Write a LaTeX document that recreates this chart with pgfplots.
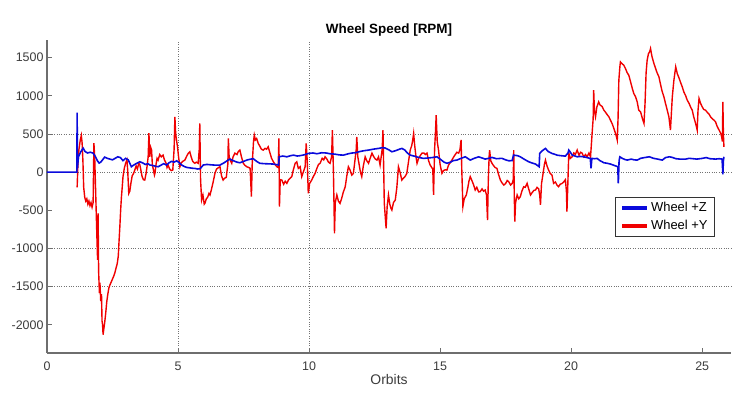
\documentclass[border=0pt]{standalone}
\usepackage{fontspec}
\setmainfont{Liberation Sans}
\usepackage{pgfplots}
\pgfplotsset{compat=1.18}
\definecolor{wblue}{RGB}{10,10,220}
\definecolor{wred}{RGB}{240,0,0}
\definecolor{axgray}{RGB}{110,110,110}
\definecolor{txtgray}{RGB}{60,60,60}
\begin{document}
\begin{tikzpicture}
\begin{axis}[
  scale only axis,
  width=684bp, height=313bp,
  xmin=0, xmax=26.1, ymin=-2370, ymax=1730,
  axis x line=bottom, axis y line=left,
  axis line style={axgray, line width=1.1pt, -},
  tick align=inside,
  tick style={axgray, line width=0.8pt},
  major tick length=5bp,
  xtick={0,5,...,25},
  ytick={-2000,-1500,-1000,-500,0,500,1000,1500},
  /pgf/number format/assume math mode=true,
  /pgf/number format/1000 sep={},
  ticklabel style={font=\fontsize{12.5}{14}\selectfont, text=txtgray},
  xticklabel style={yshift=-5bp},
  extra x ticks={5,10}, extra x tick labels={},
  extra y ticks={-1500,-1000,0,500}, extra y tick labels={},
  extra tick style={grid=major, major grid style={black!55, dotted, line width=0.6pt}, major tick length=0pt},
  title={\bfseries Wheel Speed [RPM]},
  title style={font=\fontsize{13.5}{15}\selectfont, yshift=-6bp},
  xlabel={Orbits},
  xlabel style={font=\fontsize{14}{16}\selectfont, text=txtgray, yshift=3bp},
  legend style={at={(0.830,0.498)}, anchor=north west, draw=black!80, line width=0.8pt,
    font=\fontsize{13}{14}\selectfont, row sep=3pt, inner xsep=5pt, inner ysep=3pt},
  legend cell align=left,
  legend image code/.code={\draw[#1, line width=4pt] (0bp,0bp) -- (25bp,0bp);},
]
\addlegendimage{wblue}
\addlegendentry{Wheel +Z}
\addlegendimage{wred}
\addlegendentry{Wheel +Y}

\addplot[wred, line width=1.4pt, forget plot] coordinates {
(1.15,-200) (1.18,100) (1.22,300) (1.27,420) (1.31,480) (1.34,380) (1.37,150) (1.40,-200) (1.44,-330) (1.48,-380) (1.52,-350) (1.56,-420) (1.60,-380) (1.64,-440) (1.68,-400) (1.72,-460) (1.76,-400) (1.79,380) (1.82,200) (1.86,-300) (1.90,-800) (1.93,-1150) (1.95,-540) (1.97,-1300) (2.00,-1585) (2.02,-1450) (2.05,-1690) (2.08,-1600) (2.10,-1950) (2.12,-2000) (2.14,-2130) (2.17,-2050) (2.20,-1975) (2.24,-1850) (2.28,-1700) (2.32,-1600) (2.36,-1520) (2.40,-1480) (2.45,-1440) (2.50,-1400) (2.55,-1360) (2.59,-1320) (2.64,-1250) (2.68,-1200) (2.72,-1100) (2.75,-900) (2.78,-715) (2.81,-500) (2.84,-330) (2.87,-200) (2.90,-60) (2.95,50) (3.00,115) (3.05,160) (3.08,20) (3.12,-280) (3.16,-250) (3.20,-150) (3.25,-50) (3.30,-20) (3.35,26) (3.40,80) (3.45,40) (3.50,115) (3.54,100) (3.58,30) (3.63,-60) (3.68,-100) (3.73,-105) (3.78,-20) (3.82,80) (3.86,200) (3.89,510) (3.92,200) (3.96,320) (3.99,288) (4.02,100) (4.06,30) (4.10,-40) (4.12,-15) (4.16,100) (4.20,180) (4.24,157) (4.30,230) (4.36,200) (4.43,222) (4.48,160) (4.54,120) (4.58,60) (4.62,92) (4.68,40) (4.74,20) (4.80,26) (4.85,300) (4.88,724) (4.91,500) (4.95,400) (4.98,331) (5.02,200) (5.07,70) (5.12,120) (5.18,140) (5.26,157) (5.32,200) (5.38,240) (5.45,266) (5.50,200) (5.56,140) (5.64,115) (5.70,130) (5.77,115) (5.81,300) (5.83,637) (5.86,-100) (5.90,-366) (5.95,-300) (6.00,-420) (6.03,-406) (6.08,-350) (6.13,-330) (6.18,-280) (6.22,-300) (6.28,-220) (6.34,-130) (6.41,-15) (6.47,40) (6.55,60) (6.60,70) (6.66,-50) (6.72,-105) (6.78,-80) (6.84,-70) (6.90,100) (6.92,440) (6.95,200) (7.00,150) (7.05,115) (7.10,200) (7.17,248) (7.25,230) (7.30,270) (7.36,288) (7.42,200) (7.49,115) (7.55,90) (7.62,70) (7.70,60) (7.75,50) (7.80,-320) (7.83,100) (7.88,400) (7.91,484) (7.95,420) (8.00,440) (8.06,375) (8.12,340) (8.18,300) (8.25,288) (8.32,310) (8.38,300) (8.44,331) (8.50,260) (8.57,179) (8.63,140) (8.70,100) (8.77,70) (8.82,60) (8.85,440) (8.87,-453) (8.90,-100) (8.96,-105) (9.03,-160) (9.09,-120) (9.15,-148) (9.22,-100) (9.28,-80) (9.34,-60) (9.40,30) (9.47,115) (9.53,135) (9.59,48) (9.66,70) (9.72,-60) (9.78,0) (9.85,70) (9.89,375) (9.93,150) (9.97,-279) (10.02,-150) (10.10,-105) (10.16,-60) (10.23,-17) (10.30,50) (10.36,100) (10.42,115) (10.50,180) (10.56,160) (10.61,200) (10.68,170) (10.74,130) (10.80,115) (10.86,200) (10.89,550) (10.93,0) (10.97,-802) (11.00,-400) (11.06,-300) (11.12,-380) (11.18,-410) (11.24,-350) (11.30,-270) (11.38,-192) (11.44,-50) (11.50,70) (11.56,30) (11.63,-40) (11.69,-17) (11.75,150) (11.80,300) (11.82,462) (11.86,200) (11.91,100) (11.96,0) (12.01,-60) (12.07,80) (12.14,200) (12.20,150) (12.27,115) (12.33,180) (12.40,248) (12.47,200) (12.53,170) (12.59,157) (12.65,200) (12.71,92) (12.79,300) (12.82,550) (12.85,0) (12.87,-406) (12.91,-600) (12.94,-737) (12.98,-450) (13.03,-300) (13.08,-420) (13.12,-470) (13.16,-497) (13.22,-400) (13.29,-366) (13.35,-200) (13.41,70) (13.47,0) (13.54,-105) (13.60,-80) (13.66,-60) (13.73,-17) (13.80,150) (13.86,288) (13.92,350) (13.96,430) (13.99,506) (14.03,350) (14.08,200) (14.12,115) (14.18,180) (14.25,220) (14.31,248) (14.38,250) (14.44,230) (14.50,248) (14.56,150) (14.62,92) (14.68,60) (14.72,40) (14.75,-300) (14.79,300) (14.82,500) (14.85,745) (14.89,400) (14.94,288) (15.00,100) (15.07,-17) (15.13,20) (15.20,30) (15.26,26) (15.32,90) (15.38,120) (15.45,157) (15.52,200) (15.58,230) (15.64,260) (15.71,248) (15.76,300) (15.80,420) (15.83,0) (15.87,-450) (15.92,-350) (16.00,-300) (16.06,-200) (16.10,-120) (16.15,-60) (16.20,-100) (16.27,-160) (16.34,-235) (16.40,-200) (16.47,-260) (16.53,-257) (16.60,-220) (16.66,-250) (16.72,-235) (16.77,-300) (16.81,-628) (16.84,-100) (16.87,200) (16.89,288) (16.93,150) (16.98,115) (17.05,80) (17.10,60) (17.17,48) (17.23,-30) (17.30,-105) (17.36,-140) (17.43,-170) (17.50,-150) (17.56,-110) (17.62,-127) (17.69,-170) (17.75,-150) (17.79,-100) (17.81,288) (17.83,-300) (17.85,-650) (17.88,-400) (17.94,-300) (18.00,-350) (18.06,-323) (18.12,-250) (18.19,-192) (18.25,-200) (18.32,-148) (18.38,-220) (18.45,-300) (18.51,-270) (18.58,-240) (18.64,-235) (18.70,-200) (18.76,-220) (18.80,-300) (18.83,-430) (18.87,-150) (18.93,-17) (18.98,100) (19.02,157) (19.08,80) (19.14,26) (19.20,-17) (19.27,-40) (19.33,-148) (19.40,-130) (19.46,-170) (19.52,-192) (19.58,-160) (19.65,-150) (19.72,-127) (19.78,-100) (19.82,-250) (19.84,-519) (19.87,-200) (19.91,248) (19.97,180) (20.04,200) (20.10,250) (20.16,230) (20.23,288) (20.30,220) (20.36,260) (20.42,248) (20.48,200) (20.55,230) (20.61,200) (20.68,250) (20.74,200) (20.78,400) (20.80,506) (20.84,700) (20.86,1073) (20.89,800) (20.93,724) (20.98,850) (21.05,920) (21.10,880) (21.18,860) (21.25,811) (21.32,780) (21.38,750) (21.44,724) (21.50,680) (21.57,630) (21.63,571) (21.70,500) (21.76,419) (21.79,700) (21.82,1203) (21.86,1380) (21.88,1443) (21.94,1420) (22.01,1400) (22.08,1350) (22.14,1300) (22.20,1269) (22.27,1180) (22.33,1100) (22.39,1030) (22.46,985) (22.52,920) (22.58,811) (22.65,789) (22.72,700) (22.78,637) (22.82,900) (22.86,1300) (22.90,1465) (22.95,1550) (23.00,1580) (23.03,1618) (23.08,1520) (23.12,1470) (23.16,1421) (23.22,1360) (23.28,1300) (23.35,1247) (23.41,1150) (23.47,1060) (23.54,985) (23.60,900) (23.66,820) (23.73,724) (23.79,550) (23.83,800) (23.86,985) (23.92,1200) (23.99,1378) (24.05,1290) (24.12,1230) (24.18,1170) (24.24,1116) (24.30,1050) (24.37,1000) (24.43,942) (24.50,900) (24.56,850) (24.62,811) (24.68,720) (24.75,637) (24.81,550) (24.84,800) (24.88,964) (24.94,900) (25.00,855) (25.06,820) (25.13,810) (25.20,780) (25.26,760) (25.32,724) (25.38,700) (25.45,680) (25.51,658) (25.57,600) (25.63,560) (25.71,506) (25.75,450) (25.77,400) (25.79,920) (25.81,500) (25.83,331)
};

\addplot[wblue, line width=1.6pt, forget plot] coordinates {
(0,0) (1.14,0) (1.15,780) (1.16,50) (1.20,200) (1.28,260) (1.38,314) (1.45,270) (1.55,250) (1.65,260) (1.76,248) (1.85,200) (1.92,150) (1.99,118) (2.05,130) (2.12,160) (2.20,196) (2.30,180) (2.40,170) (2.50,160) (2.60,180) (2.70,200) (2.80,190) (2.90,150) (3.00,180) (3.10,160) (3.22,70) (3.30,90) (3.40,110) (3.54,135) (3.65,120) (3.75,100) (3.85,110) (3.93,92) (4.05,85) (4.15,75) (4.24,70) (4.35,90) (4.45,110) (4.56,92) (4.65,120) (4.75,140) (4.85,130) (4.95,148) (5.05,120) (5.15,90) (5.26,70) (5.35,60) (5.45,55) (5.55,50) (5.64,48) (5.75,40) (5.85,45) (5.96,92) (6.10,100) (6.25,95) (6.38,92) (6.50,90) (6.60,92) (6.75,120) (6.88,150) (6.98,170) (7.10,150) (7.25,130) (7.36,122) (7.50,140) (7.65,160) (7.78,170) (7.87,175) (8.00,140) (8.12,115) (8.30,110) (8.45,108) (8.63,105) (8.75,98) (8.84,92) (8.86,200) (9.00,210) (9.15,200) (9.30,215) (9.41,222) (9.55,210) (9.66,215) (9.80,225) (9.97,244) (10.15,250) (10.30,240) (10.48,253) (10.65,250) (10.80,240) (10.99,235) (11.15,225) (11.31,222) (11.50,240) (11.65,250) (11.76,253) (11.95,270) (12.10,280) (12.27,288) (12.45,300) (12.65,310) (12.80,320) (12.90,315) (13.05,290) (13.16,266) (13.30,280) (13.45,300) (13.54,310) (13.65,290) (13.75,250) (13.86,222) (14.00,210) (14.15,195) (14.37,179) (14.55,185) (14.70,190) (14.88,200) (15.00,170) (15.15,130) (15.26,115) (15.40,130) (15.50,150) (15.64,157) (15.80,180) (15.96,200) (16.05,180) (16.15,157) (16.30,180) (16.47,200) (16.60,185) (16.72,170) (16.85,180) (16.98,192) (17.15,175) (17.36,180) (17.50,160) (17.62,148) (17.75,150) (17.80,222) (17.95,215) (18.06,200) (18.20,170) (18.38,135) (18.50,120) (18.64,105) (18.72,85) (18.78,70) (18.80,244) (18.90,280) (19.02,310) (19.12,270) (19.27,244) (19.40,230) (19.46,222) (19.60,215) (19.78,209) (19.88,250) (19.91,288) (19.97,260) (20.04,222) (20.15,210) (20.23,200) (20.35,205) (20.48,200) (20.60,190) (20.73,179) (20.76,48) (20.79,179) (20.90,175) (20.99,179) (21.10,150) (21.25,122) (21.38,115) (21.50,105) (21.62,90) (21.72,78) (21.78,70) (21.80,-148) (21.83,150) (21.86,200) (21.95,180) (22.05,165) (22.14,157) (22.30,170) (22.40,160) (22.52,157) (22.65,180) (22.80,190) (22.98,200) (23.15,180) (23.30,170) (23.48,157) (23.60,190) (23.75,200) (23.86,192) (24.00,175) (24.15,170) (24.37,170) (24.50,180) (24.65,175) (24.80,170) (25.00,179) (25.15,190) (25.30,175) (25.51,170) (25.65,175) (25.76,170) (25.79,-30) (25.81,150) (25.83,200)
};
\end{axis}
\pgfresetboundingbox
\path[use as bounding box] ([shift={(-47bp,-42bp)}]current axis.south west) rectangle ([shift={(18bp,40bp)}]current axis.north east);
\end{tikzpicture}
\end{document}
